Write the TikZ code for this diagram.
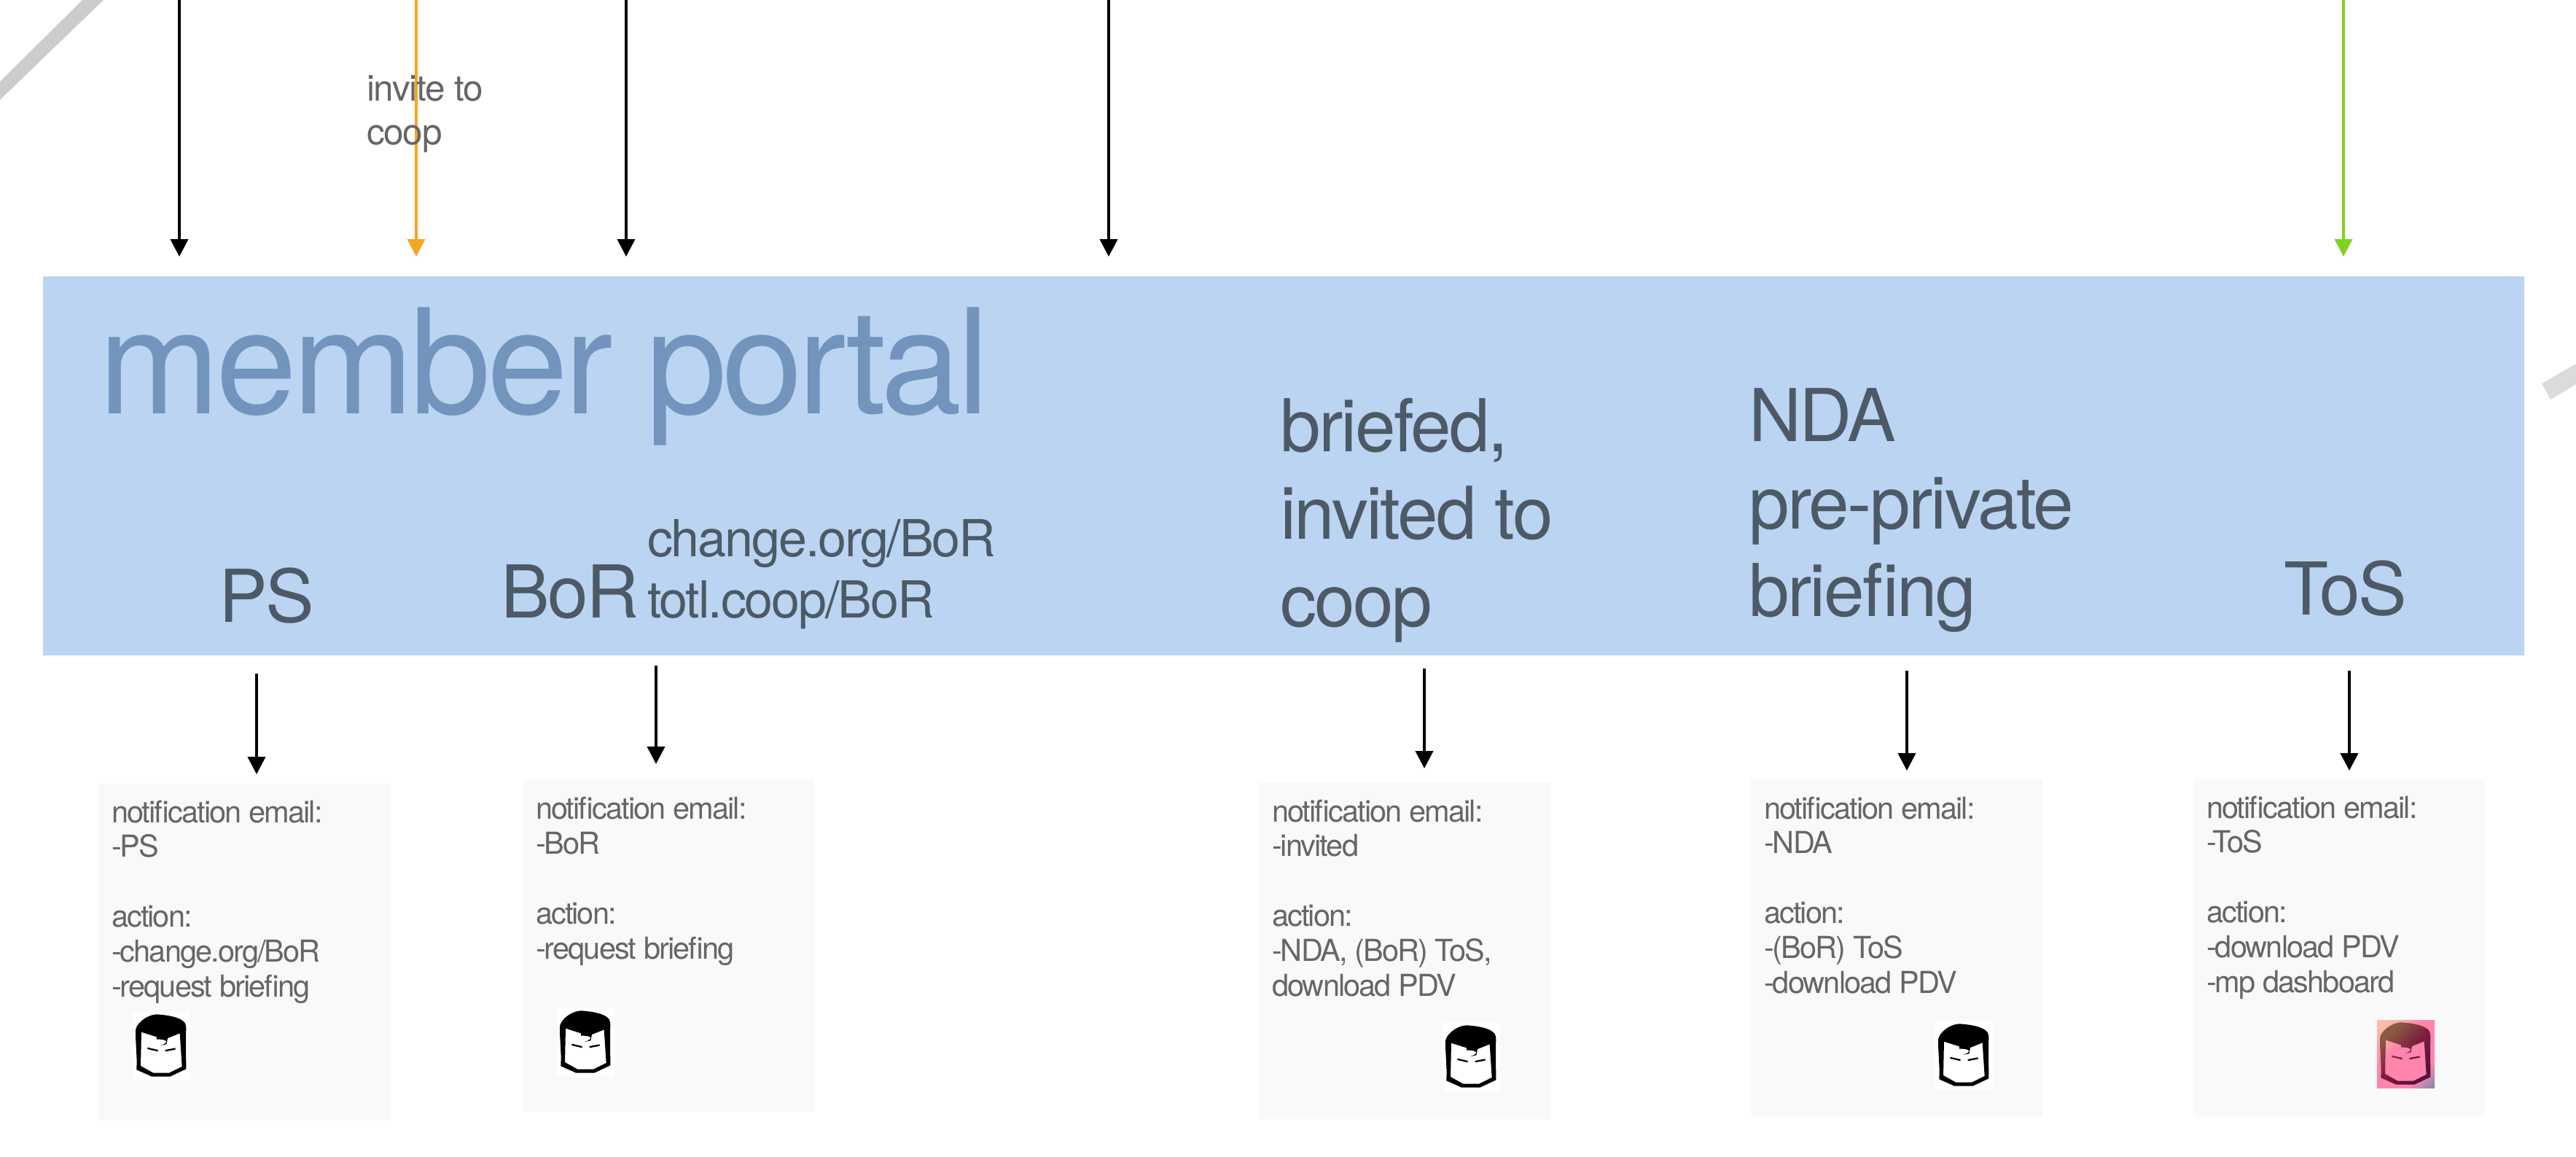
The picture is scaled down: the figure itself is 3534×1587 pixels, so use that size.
\documentclass[tikz,border=0pt]{standalone}
\usepackage{fontspec}
\usetikzlibrary{arrows.meta}
\setmainfont{TeX Gyre Heros}[LetterSpace=-3.5]
\newfontfamily\wideTitle{TeX Gyre Heros}[LetterSpace=-2.8]
\newfontfamily\headfont{TeX Gyre Heros}[LetterSpace=-2.7]
\newfontfamily\midfont{TeX Gyre Heros}[LetterSpace=-3.0]
\newfontfamily\smallfont{TeX Gyre Heros}[LetterSpace=-4.6]
\newfontfamily\invitefont{TeX Gyre Heros}[LetterSpace=-2.5]
\definecolor{portal}{HTML}{BAD4F2}
\definecolor{title}{HTML}{7294BD}
\definecolor{label}{HTML}{4D5A66}
\definecolor{body}{HTML}{666666}
\definecolor{card}{HTML}{F9F9F9}
\definecolor{amber}{HTML}{F5A623}
\definecolor{lime}{HTML}{7ED321}
\definecolor{facepeach}{HTML}{FFBDA8}
\definecolor{facepink}{HTML}{FF85AC}
\definecolor{facemauve}{HTML}{9088B0}
\definecolor{facebrown}{HTML}{8A5A42}
\definecolor{facered}{HTML}{7C1E3C}
\definecolor{facewine}{HTML}{5E1040}
\pgfdeclareverticalshading{pinkbg}{100bp}{color(0bp)=(facemauve); color(17bp)=(facemauve); color(30bp)=(facepink); color(58bp)=(facepink); color(80bp)=(facepeach); color(100bp)=(facepeach)}
\pgfdeclareverticalshading{pinkhair}{100bp}{color(0bp)=(facewine); color(30bp)=(facewine); color(50bp)=(facered); color(72bp)=(facebrown); color(100bp)=(facebrown)}
\tikzset{
  flow/.style={line width=4pt,-{Triangle[length=24pt,width=24pt]},draw=#1},
  flow/.default=black,
  txt/.style={inner sep=0pt,outer sep=0pt,anchor=base west,align=left},
  bigtxt/.style={txt,text=label,font=\headfont\fontsize{100}{120}\selectfont},
  midtxt/.style={txt,text=label,font=\midfont\fontsize{70}{84}\selectfont},
  smalltxt/.style={txt,text=body,font=\smallfont\fontsize{41.5}{47.8}\selectfont},
  invitetxt/.style={txt,text=body,font=\invitefont\fontsize{49.5}{60}\selectfont},
  cardbox/.style={inner sep=0pt,outer sep=0pt,anchor=north west,fill=card,minimum width=400pt},
}
\newcommand{\faceshape}{
  (12,75) .. controls (14,50) and (55,12) .. (99,10) .. controls (130,12) and (195,18) .. (215,45)
  .. controls (222,60) and (220,70) .. (219,90) -- (220,235) -- (154,266) -- (79,266) -- (16,238)
  -- (17,200) -- (12,100) -- cycle
  (36,83) -- (99,103) -- (99,113) .. controls (120,112) and (139,115) .. (139,123)
  .. controls (135,132) and (122,135) .. (114,138) -- (139,133) -- (144,108) -- (194,88)
  -- (203,225) -- (150,251) -- (85,251) -- (33,222) -- cycle
  (61,146) -- (104,156) -- (104,163) -- (61,153) -- cycle
  (134,156) -- (176,148) -- (176,155) -- (134,163) -- cycle}
\newcommand{\plainface}[2]{
  \begin{scope}[shift={(#1,#2)},x=0.3333pt,y=-0.3333pt]
    \fill[white] (0,0) rectangle (237,281);
    \fill[black,even odd rule] \faceshape;
  \end{scope}}
\newcommand{\pinkface}[2]{
  \begin{scope}[shift={(#1,#2)},x=0.3333pt,y=-0.3333pt]
    \shade[shading=pinkbg,shading angle=45] (0,0) rectangle (237,281);
    \shade[shading=pinkhair,shading angle=45,even odd rule] \faceshape;
  \end{scope}}
\begin{document}
\begin{tikzpicture}[x=1pt,y=-1pt]
\useasboundingbox (0,0) rectangle (3534,1587);
% background stripes
\fill[black!20] (113,0) -- (142,0) -- (0,137) -- (0,112) -- cycle;
\fill[black!14] (3487,526) -- (3534,499) -- (3534,527) -- (3499,548) -- cycle;
% portal band
\node[inner sep=0pt,outer sep=0pt,anchor=north west,fill=portal,minimum width=3404pt,minimum height=520pt] (band) at (59,379) {};
% top arrows
\foreach \n/\x in {a/246,b/571,c/859,d/1521,e/3215}{
  \coordinate (\n top) at (\x,0);
  \coordinate (\n end) at (\x,352);
}
\draw[flow] (atop) -- (aend);
\draw[flow=amber] (btop) -- (bend);
\draw[flow] (ctop) -- (cend);
\draw[flow] (dtop) -- (dend);
\draw[flow=lime] (etop) -- (eend);
\node[invitetxt] (invite) at (503,198) {invite to\\coop};
% titles
\node[txt,text=title,font=\fontsize{200}{240}\selectfont] (title) at (135,567) {{\wideTitle member}\hspace{-3pt} portal};
\node[bigtxt] (ps) at (300,853) {PS};
\node[bigtxt] (bor) at (687,847) {BoR};
\node[midtxt] (links) at (888,847) {change.org/BoR\\totl.coop/BoR};
\node[bigtxt] (briefed) at (1756,859) {briefed,\\invited to\\coop};
\node[bigtxt] (nda) at (2399,845) {NDA\\pre-private\\briefing};
\node[bigtxt] (tos) at (3133,843) {ToS};
% cards
\node[cardbox,minimum height=462pt] (c1) at (135,1075) {};
\node[cardbox,minimum height=455pt] (c2) at (717,1070) {};
\node[cardbox,minimum height=462pt] (c3) at (1727,1073) {};
\node[cardbox,minimum height=462pt] (c4) at (2402,1069) {};
\node[cardbox,minimum height=462pt] (c5) at (3009,1069) {};
\node[smalltxt] (t1) at (153,1367) {notification email:\\-PS\\[47.8pt]action:\\-change.org/BoR\\-request briefing};
\node[smalltxt] (t2) at (735,1315) {notification email:\\-BoR\\[47.8pt]action:\\-request briefing};
\node[smalltxt] (t3) at (1745,1366) {notification email:\\-invited\\[47.8pt]action:\\-NDA, (BoR) ToS,\\download PDV};
\node[smalltxt] (t4) at (2420,1362) {notification email:\\-NDA\\[47.8pt]action:\\-(BoR) ToS\\-download PDV};
\node[smalltxt] (t5) at (3027,1361) {notification email:\\-ToS\\[47.8pt]action:\\-download PDV\\-mp dashboard};
% lower arrows
\foreach \n/\x/\s/\e in {p/352/924/1062,q/900/913/1048,r/1954/917/1054,s/2616/920/1057,u/3223/920/1057}{
  \coordinate (\n top) at (\x,\s);
  \coordinate (\n end) at (\x,\e);
}
\draw[flow] (ptop) -- (pend);
\draw[flow] (qtop) -- (qend);
\draw[flow] (rtop) -- (rend);
\draw[flow] (stop) -- (send);
\draw[flow] (utop) -- (uend);
% faces
\plainface{182}{1388}
\plainface{764}{1383}
\plainface{1979}{1403}
\plainface{2655}{1401}
\pinkface{3261}{1399}
\end{tikzpicture}
\end{document}
